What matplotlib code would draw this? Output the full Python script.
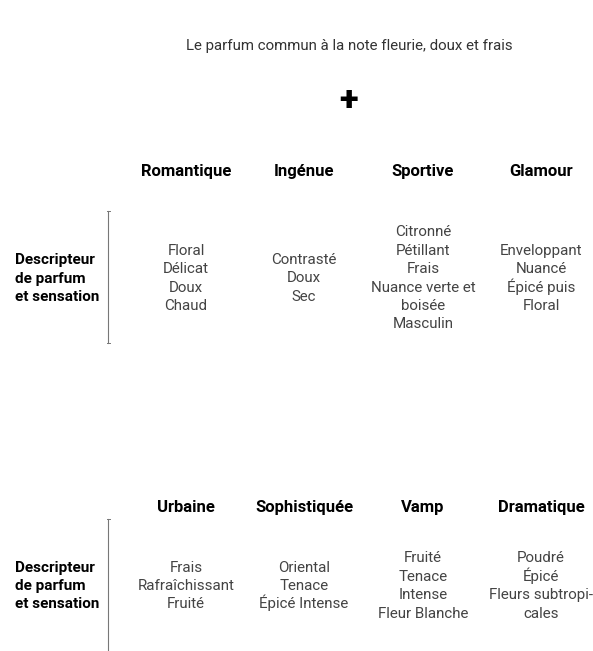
import matplotlib
matplotlib.use("Agg")
import matplotlib.pyplot as plt

plt.rcParams['font.family'] = ['Roboto', 'DejaVu Sans']

titre = "Le parfum commun à la note fleurie, doux et frais"
etiquette = ["Descripteur", "de parfum", "et sensation"]

styles_1 = ["Romantique", "Ingénue", "Sportive", "Glamour"]
descr_1 = [
    ["Floral", "Délicat", "Doux", "Chaud"],
    ["Contrasté", "Doux", "Sec"],
    ["Citronné", "Pétillant", "Frais", "Nuance verte et", "boisée", "Masculin"],
    ["Enveloppant", "Nuancé", "Épicé puis", "Floral"],
]

styles_2 = ["Urbaine", "Sophistiquée", "Vamp", "Dramatique"]
descr_2 = [
    ["Frais", "Rafraîchissant", "Fruité"],
    ["Oriental", "Tenace", "Épicé Intense"],
    ["Fruité", "Tenace", "Intense", "Fleur Blanche"],
    ["Poudré", "Épicé", "Fleurs subtropi-", "cales"],
]

W, H = 593, 651
fig = plt.figure(figsize=(W / 100, H / 100), dpi=100)
ax = fig.add_axes([0, 0, 1, 1])
ax.set_xlim(0, W)
ax.set_ylim(H, 0)
ax.axis('off')

col_x = [186, 304, 423, 541]
pas = 18.4   # interligne en pixels

ax.text(349, 46, titre, ha='center', va='center', fontsize=10.8, color='#333333')
ax.text(349, 102, "+", ha='center', va='center', fontsize=25, fontweight='black', color='black')


def lignes(x, yc, textes, ha, **kw):
    n = len(textes)
    for i, t in enumerate(textes):
        y = yc + (i - (n - 1) / 2) * pas + 5
        ax.text(x, y, t, ha=ha, va='baseline', **kw)


def bloc(y_titre, y_centre, y_ligne, styles, descr):
    for x, s in zip(col_x, styles):
        ax.text(x, y_titre, s, ha='center', va='baseline', fontsize=12,
                fontweight='bold', color='black')
    for x, d in zip(col_x, descr):
        lignes(x, y_centre, d, 'center', fontsize=10.9, color='#444444')
    lignes(15, y_centre, etiquette, 'left', fontsize=11, fontweight='bold', color='black')
    ax.plot([108, 108], y_ligne, color='#777777', lw=0.8)
    for yy in y_ligne:
        ax.plot([106.5, 109.5], [yy, yy], color='#777777', lw=0.7)


bloc(176, 277.5, [211, 343], styles_1, descr_1)
bloc(512, 585, [519, 651], styles_2, descr_2)

fig.savefig("out.png", dpi=100, facecolor='white')
